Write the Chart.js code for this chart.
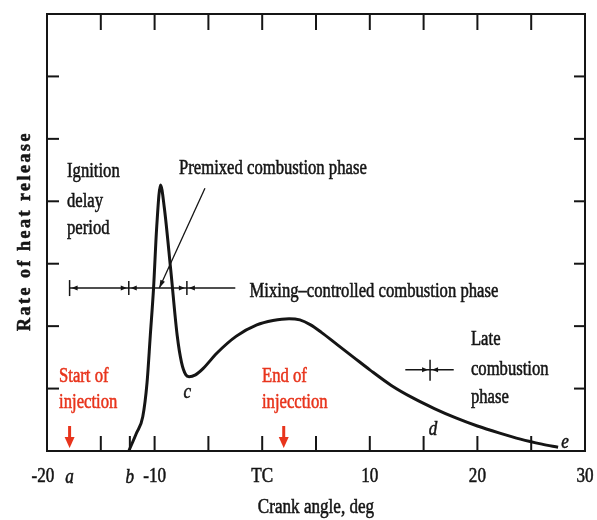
<!DOCTYPE html>
<html>
<head>
<meta charset="utf-8">
<script src="https://cdn.jsdelivr.net/npm/chart.js@4.4.1/dist/chart.umd.min.js"></script>
<style>
  html, body { margin: 0; padding: 0; background: #fff; }
  canvas { display: block; }
</style>
</head>
<body>
<canvas id="heatChart" width="597" height="520"></canvas>
<script>
// ── Data ──────────────────────────────────────────────────────────────────────
const crankAngle  = [-12.4, -11.7, -11.1, -10.7, -10.4, -10.1, -9.8, -9.45, -9.1, -8.5, -7.9, -7.5, -7.1, -6.8,
                     -6.2, -5.5, -4.2, -2.4, -0.5, 1.0, 2.5, 3.5, 4.5, 5.5, 7.0, 8.5, 10, 12, 14, 16, 18, 20,
                     22, 24, 26, 27.5];
const heatRelease = [0, 0.28, 0.55, 1.1, 1.85, 2.6, 3.6, 4.26, 3.9, 2.9, 1.85, 1.42, 1.22, 1.19,
                     1.22, 1.32, 1.57, 1.84, 2.02, 2.09, 2.12, 2.10, 2.02, 1.90, 1.70, 1.50, 1.30, 1.05, 0.85, 0.68, 0.53, 0.40,
                     0.29, 0.19, 0.11, 0.06];

const xMin = -20, xMax = 30, yMin = 0, yMax = 7;
const bottomTicks = [-15, -12.3, -10, -5, 0, 5, 10, 15, 20, 25];
const topTicks    = [-15, -10, -5, 0, 5, 10, 15, 20, 25];
const sideTicks   = [1, 2, 3, 4, 5, 6];
const xTickLabels = [[-20, "-20"], [-17.9, "a"], [-12.3, "b"], [-10, "-10"], [0, "TC"], [10, "10"], [20, "20"], [30, "30"]];

// phase events (crank angle, deg)
const startInjection = -17.9;
const endInjection   = 2.0;
const pointB = -12.4, pointC = -7.0;
const mixingLine = { y: 2.61, from: -17.9, to: -2.5 };
const lateMarker = { y: 1.30, from: 13.3, to: 17.8, at: 15.6 };

const RED   = "#e8341c";
const INK   = "#151515";
const SERIF = "'Liberation Serif', 'DejaVu Serif', serif";

// ── Text annotations: [text, x (deg), y (value), colour] ─────────────────────
const notes = [
  ["Ignition", -18.14, 4.47, INK],
  ["delay",    -18.14, 4.00, INK],
  ["period",   -18.14, 3.56, INK],
  ["Premixed combustion phase", -7.73, 4.53, INK],
  ["Mixing\u2013controlled combustion phase", -1.18, 2.55, INK],
  ["Late",       19.4, 1.78, INK],
  ["combustion", 19.4, 1.31, INK],
  ["phase",      19.4, 0.85, INK],
  ["Start of",  -18.88, 1.19, RED],
  ["injection", -18.88, 0.78, RED],
  ["End of",     -0.02, 1.19, RED],
  ["injecction", -0.02, 0.78, RED],
];
const letters = [["c", -6.96, 0.93], ["d", 15.87, 0.34], ["e", 28.14, 0.13]];

// ── Helpers ───────────────────────────────────────────────────────────────────
function line(ctx, x1, y1, x2, y2) {
  ctx.beginPath(); ctx.moveTo(x1, y1); ctx.lineTo(x2, y2); ctx.stroke();
}
function arrowHead(ctx, tx, ty, dx, dy, len, half) {
  const n = Math.hypot(dx, dy); dx /= n; dy /= n;
  ctx.beginPath();
  ctx.moveTo(tx, ty);
  ctx.lineTo(tx - dx * len - dy * half, ty - dy * len + dx * half);
  ctx.lineTo(tx - dx * len + dy * half, ty - dy * len - dx * half);
  ctx.closePath(); ctx.fill();
}
// converging "→|←" marker on a horizontal line
function convergeMark(ctx, px, py) {
  ctx.lineWidth = 1.5;
  line(ctx, px, py - 7, px, py + 7);
  arrowHead(ctx, px - 2, py, 1, 0, 6, 2.5);
  arrowHead(ctx, px + 2, py, -1, 0, 6, 2.5);
}
// scanned-looking text: a bit narrow, tall and heavy
function text(ctx, t, px, py, font, color, sx = 0.9, sy = 1.1) {
  ctx.save();
  ctx.translate(px, py);
  ctx.scale(sx, sy);
  ctx.font = font;
  ctx.fillStyle = color; ctx.strokeStyle = color;
  ctx.lineWidth = 0.5;
  ctx.fillText(t, 0, 0);
  ctx.strokeText(t, 0, 0);
  ctx.restore();
}

// ── Frame, ticks, labels & annotations ────────────────────────────────────────
const figurePlugin = {
  id: "figure",
  afterDatasetsDraw(chart) {
    const { ctx, chartArea: a, scales: { x, y } } = chart;
    ctx.save();
    ctx.strokeStyle = INK; ctx.fillStyle = INK;

    // box
    ctx.lineWidth = 2;
    ctx.strokeRect(a.left, a.top, a.right - a.left, a.bottom - a.top);

    // inward ticks
    bottomTicks.forEach(v => line(ctx, x.getPixelForValue(v), a.bottom, x.getPixelForValue(v), a.bottom - 15));
    topTicks.forEach(v => line(ctx, x.getPixelForValue(v), a.top, x.getPixelForValue(v), a.top + 16));
    sideTicks.forEach(v => {
      const py = y.getPixelForValue(v);
      line(ctx, a.left, py, a.left + 12, py);
      line(ctx, a.right, py, a.right - 11, py);
    });

    // x tick labels
    ctx.textAlign = "center"; ctx.textBaseline = "middle";
    xTickLabels.forEach(([v, t]) => {
      const italic = /^[a-z]$/.test(t);
      text(ctx, t, x.getPixelForValue(v) - (v === xMin ? 4 : 0), 477,
           (italic ? "italic " : "") + "19px " + SERIF, INK);
    });

    // axis titles
    text(ctx, "Crank angle, deg", (a.left + a.right) / 2, 508, "19px " + SERIF, INK);
    ctx.save();
    ctx.translate(25, 231);
    ctx.rotate(-Math.PI / 2);
    ctx.letterSpacing = "2.5px";
    text(ctx, "Rate of heat release", 0, 0, "bold 18px " + SERIF, INK, 1, 1.1);
    ctx.restore();

    // mixing-controlled phase line
    const my = y.getPixelForValue(mixingLine.y);
    const mx1 = x.getPixelForValue(mixingLine.from), mx2 = x.getPixelForValue(mixingLine.to);
    ctx.lineWidth = 1.5;
    line(ctx, mx1, my, mx2, my);
    line(ctx, mx1, my - 8, mx1, my + 8);
    arrowHead(ctx, mx1 + 2, my, -1, 0, 6, 2.5);
    convergeMark(ctx, x.getPixelForValue(pointB), my);
    convergeMark(ctx, x.getPixelForValue(pointC), my);

    // premixed leader line
    const lx1 = x.getPixelForValue(-5.32), ly1 = y.getPixelForValue(4.21);
    const lx2 = x.getPixelForValue(-9.56), ly2 = my;
    ctx.lineWidth = 1.3;
    line(ctx, lx1, ly1, lx2, ly2);
    arrowHead(ctx, lx2, ly2, lx2 - lx1, ly2 - ly1, 8, 2.5);

    // late combustion marker
    const ly = y.getPixelForValue(lateMarker.y);
    ctx.lineWidth = 1.5;
    line(ctx, x.getPixelForValue(lateMarker.from), ly, x.getPixelForValue(lateMarker.to), ly);
    const lp = x.getPixelForValue(lateMarker.at);
    line(ctx, lp, ly - 10, lp, ly + 11);
    arrowHead(ctx, lp - 2, ly, 1, 0, 6, 2.5);
    arrowHead(ctx, lp + 2, ly, -1, 0, 6, 2.5);

    // injection arrows
    ctx.strokeStyle = RED; ctx.fillStyle = RED;
    [startInjection, endInjection].forEach(v => {
      const px = x.getPixelForValue(v);
      ctx.lineWidth = 3;
      line(ctx, px, a.bottom - 25, px, a.bottom - 12);
      arrowHead(ctx, px, a.bottom - 3, 0, 1, 11, 5);
    });

    // texts
    ctx.textAlign = "left"; ctx.textBaseline = "middle";
    notes.forEach(([t, vx, vy, col]) =>
      text(ctx, t, x.getPixelForValue(vx), y.getPixelForValue(vy), "18.5px " + SERIF, col));
    ctx.textAlign = "center";
    letters.forEach(([t, vx, vy]) =>
      text(ctx, t, x.getPixelForValue(vx), y.getPixelForValue(vy), "italic 19px " + SERIF, INK));

    ctx.restore();
  }
};

// ── Chart ─────────────────────────────────────────────────────────────────────
new Chart(document.getElementById("heatChart"), {
  type: "line",
  data: {
    datasets: [{
      data: crankAngle.map((v, i) => ({ x: v, y: heatRelease[i] })),
      borderColor: INK,
      borderWidth: 3,
      pointRadius: 0,
      cubicInterpolationMode: "monotone",
      fill: false,
    }]
  },
  options: {
    responsive: false,
    animation: false,
    layout: { padding: { left: 47, right: 12, top: 14, bottom: 69 } },
    plugins: { legend: { display: false }, tooltip: { enabled: false } },
    scales: {
      x: { type: "linear", min: xMin, max: xMax, display: false },
      y: { type: "linear", min: yMin, max: yMax, display: false },
    }
  },
  plugins: [figurePlugin]
});
</script>
</body>
</html>
